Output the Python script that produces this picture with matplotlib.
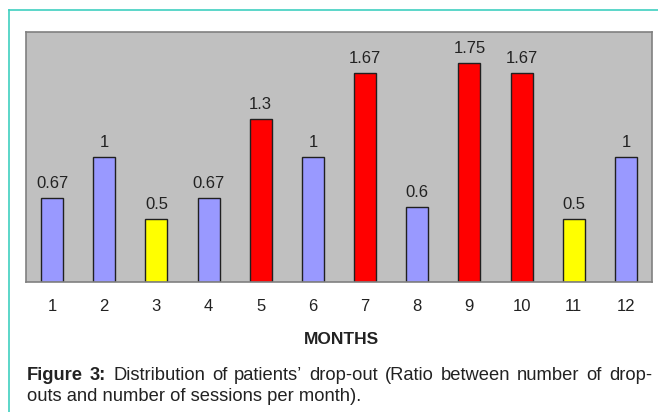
import matplotlib.pyplot as plt
from matplotlib.lines import Line2D

months = ['1', '2', '3', '4', '5', '6', '7', '8', '9', '10', '11', '12']
ratios = [0.67, 1, 0.5, 0.67, 1.3, 1, 1.67, 0.6, 1.75, 1.67, 0.5, 1]
labels = ['0.67', '1', '0.5', '0.67', '1.3', '1', '1.67', '0.6', '1.75', '1.67', '0.5', '1']
colors = ['#9999FF', '#9999FF', '#FFFF00', '#9999FF', '#FF0000', '#9999FF',
          '#FF0000', '#9999FF', '#FF0000', '#FF0000', '#FFFF00', '#9999FF']

caption1 = 'Figure 3: Distribution of patients\u2019 drop-out (Ratio between number of drop-'
caption2 = 'outs and number of sessions per month).'

plt.rcParams['font.family'] = ['Liberation Sans', 'DejaVu Sans']
txt = '#222222'

fig = plt.figure(figsize=(6.58, 4.12), dpi=100)
W, H = 658, 412

# teal frame around the figure
fig.add_artist(Line2D([9 / W, 1], [1 - 10 / H, 1 - 10 / H], color='#40CFC0', lw=1.2))
fig.add_artist(Line2D([9 / W, 9 / W], [0, 1 - 10 / H], color='#40CFC0', lw=1.2))

ax = fig.add_axes([26 / W, 1 - 282 / H, 626 / W, 250 / H])
ax.set_facecolor('#C0C0C0')
x = list(range(1, 13))
ax.bar(x, ratios, width=0.42, color=colors, edgecolor='#202020', linewidth=1.0)
for xi, v, s in zip(x, ratios, labels):
    ax.text(xi, v + 0.08, s, ha='center', va='baseline', fontsize=12, color=txt)

ax.set_xlim(0.5, 12.5)
ax.set_ylim(0, 1.995)
ax.set_yticks([])
ax.set_xticks(x)
ax.set_xticklabels(months, fontsize=12, color=txt)
ax.tick_params(axis='x', length=0, pad=12)
for sp in ax.spines.values():
    sp.set_color('#808080')
    sp.set_linewidth(1.2)

fig.text(341 / W, 1 - 339 / H, 'MONTHS', ha='center', va='center',
         fontsize=12.5, fontweight='bold', color=txt)

# caption, first line justified between the plot edges
fs = 13.2
x0, x1 = 27, 652
renderer = fig.canvas.get_renderer()
words = caption1.split(' ')
items = []
for i, w in enumerate(words):
    t = fig.text(0, 1 - 375 / H, w, ha='left', va='baseline', fontsize=fs, color=txt,
                 fontweight='bold' if i < 2 else 'normal')
    items.append(t)
widths = [t.get_window_extent(renderer).width for t in items]
gap = (x1 - x0 - sum(widths)) / (len(words) - 1)
pos = x0
for t, w in zip(items, widths):
    t.set_x(pos / W)
    t.set_y(1 - 380 / H)
    pos += w + gap
fig.text(x0 / W, 1 - 401 / H, caption2, ha='left', va='baseline', fontsize=fs, color=txt)

fig.savefig('out.png', dpi=100)
